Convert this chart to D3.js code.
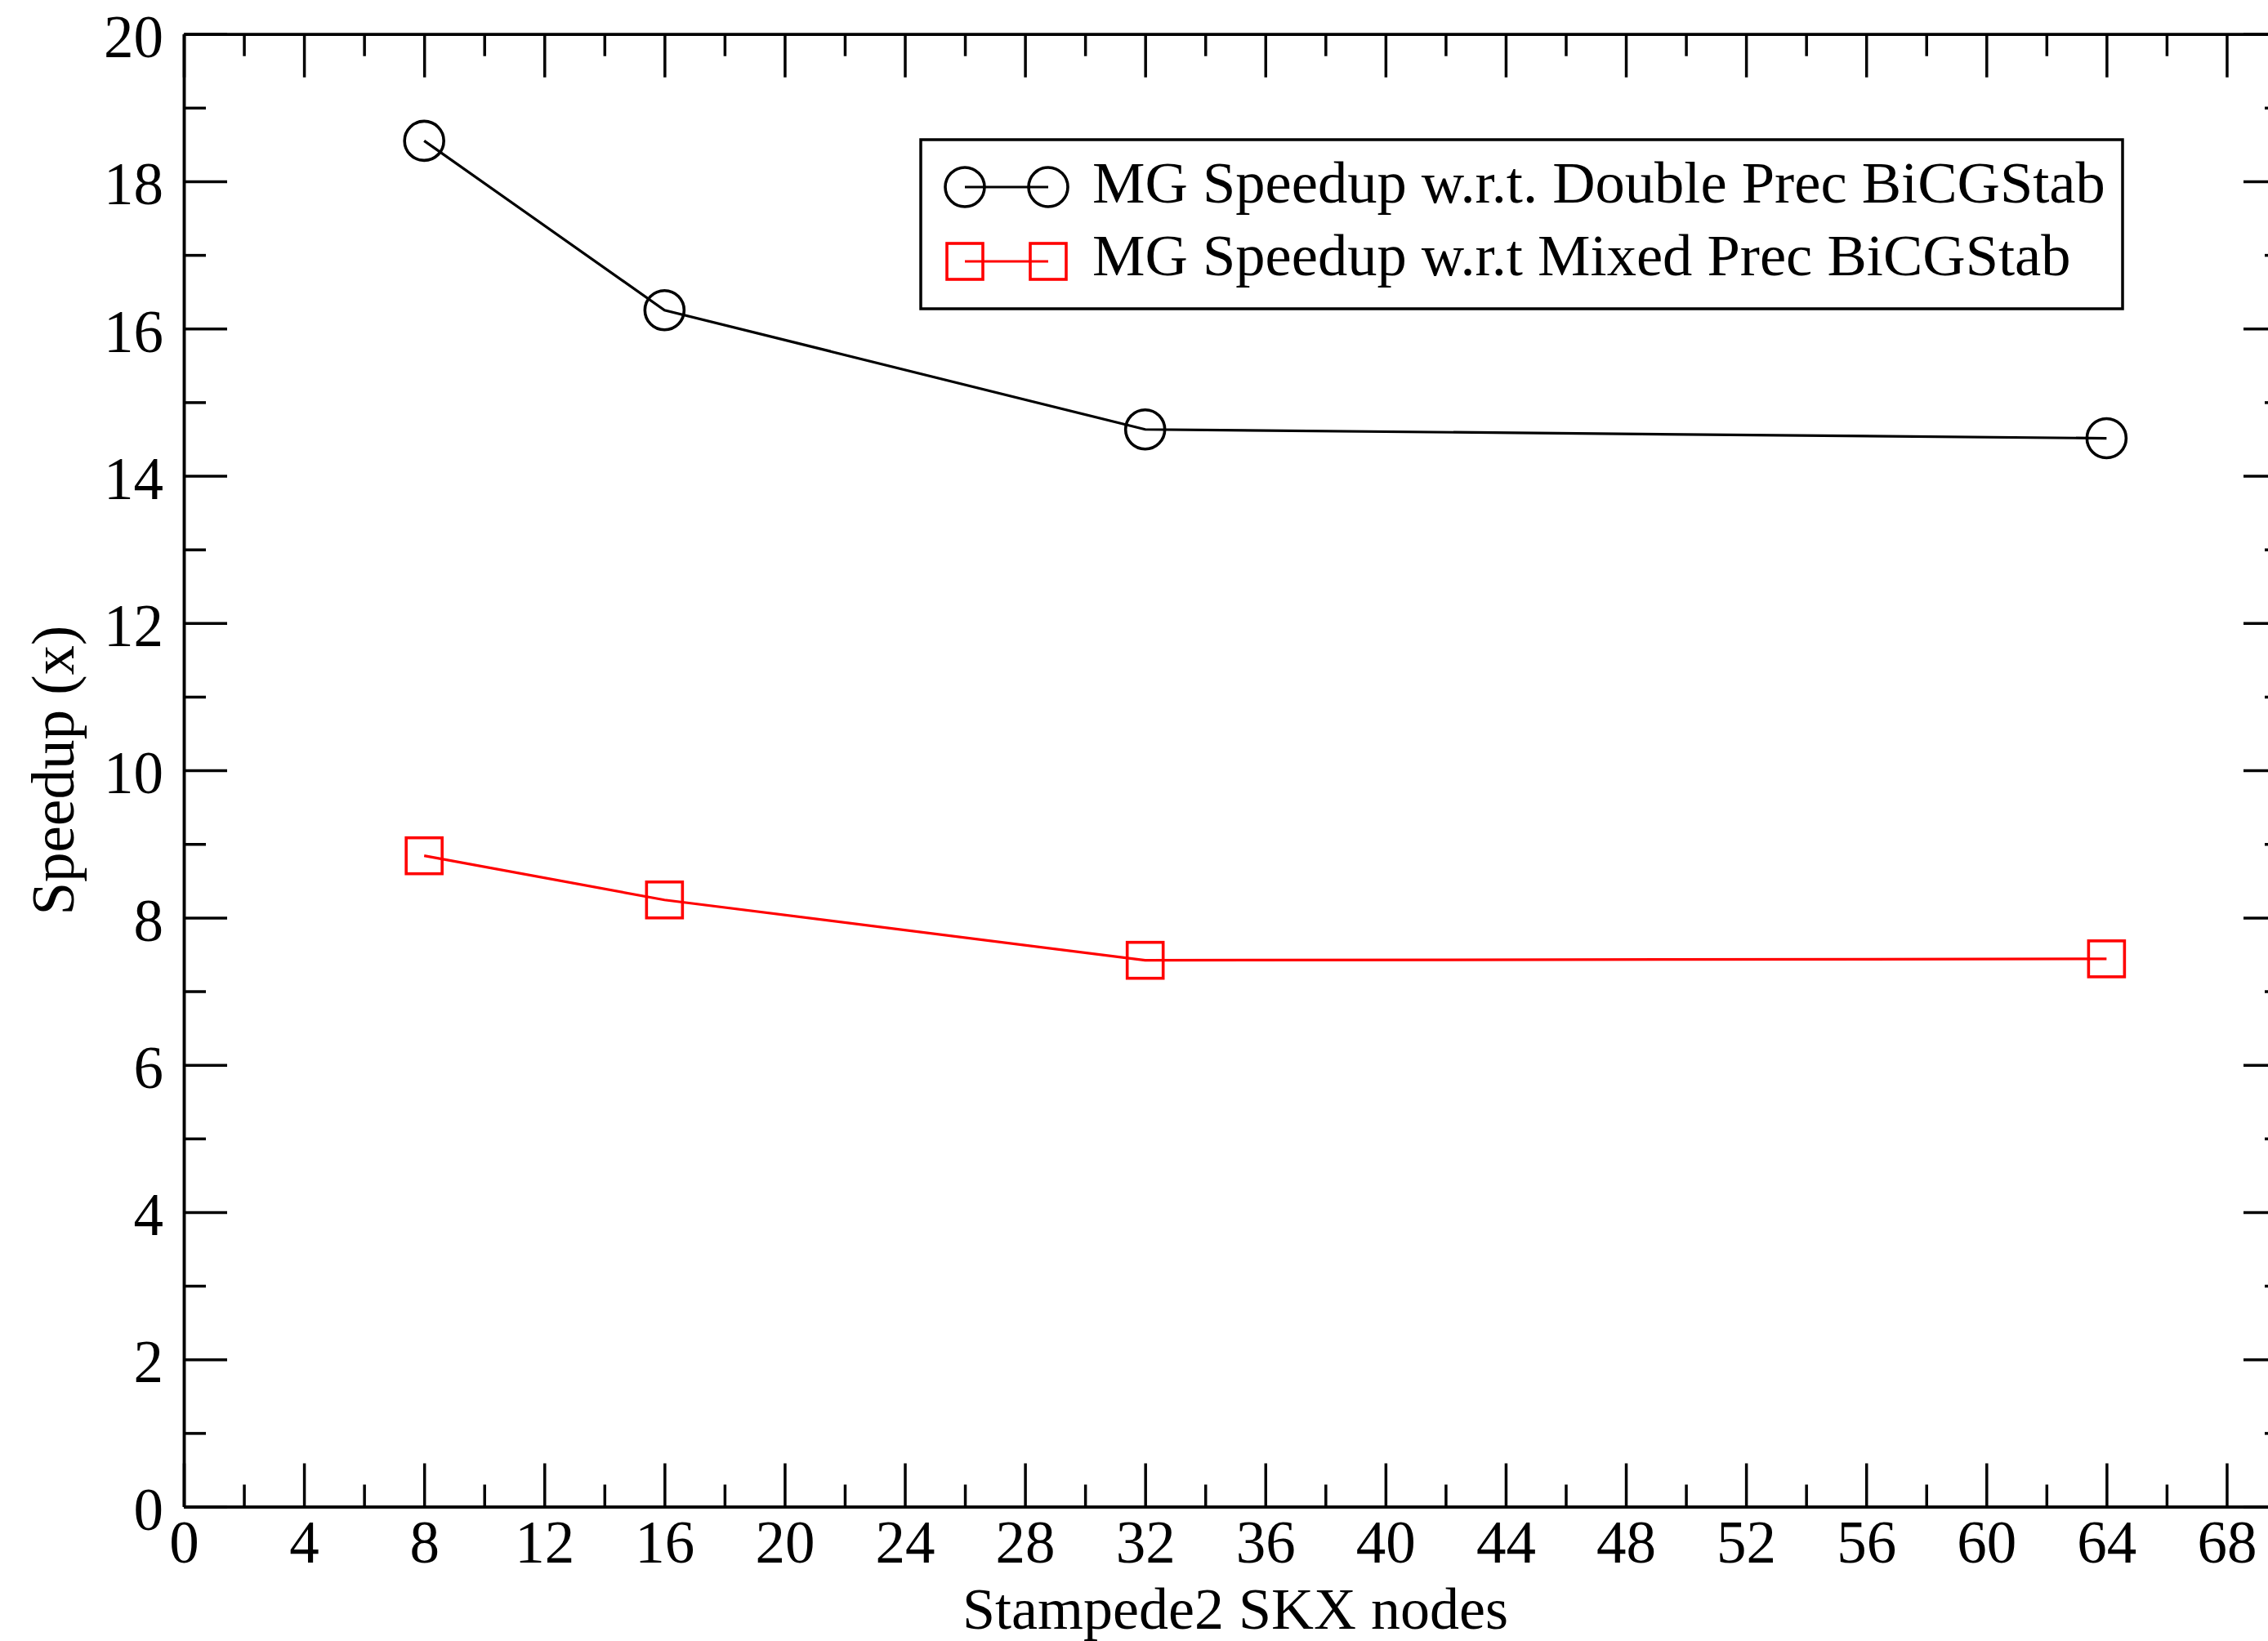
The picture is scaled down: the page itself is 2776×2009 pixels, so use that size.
<!DOCTYPE html>
<html>
<head>
<meta charset="utf-8">
<script src="https://cdn.jsdelivr.net/npm/d3@7"></script>
<style>
  html, body { margin: 0; padding: 0; background: #fff; }
  svg { display: block; }
  text { font-family: "Liberation Serif", "Times New Roman", serif; fill: #000; }
</style>
</head>
<body>
<svg id="chart" width="2776" height="2009"></svg>
<script>
// Speedup of MG vs BiCGStab on Stampede2 SKX nodes

const nodeCounts = [8, 16, 32, 64];
const speedupDouble = [18.55, 16.25, 14.63, 14.51];
const speedupMixed = [8.84, 8.24, 7.42, 7.44];

const seriesNames = [
  "MG Speedup w.r.t. Double Prec BiCGStab",
  "MG Speedup w.r.t Mixed Prec BiCGStab"
];

const xMajorTicks = d3.range(0, 69, 4);   // 0..68
const xMinorTicks = d3.range(2, 70, 4);
const yMajorTicks = d3.range(0, 21, 2);
const yMinorTicks = d3.range(1, 20, 2);

const xLabel = "Stampede2 SKX nodes";
const yLabel = "Speedup (x)";

(function () {
  const svg = d3.select("#chart");

  const left = 225, right = 2799, top = 41.7, bottom = 1844.5;
  const fontSize = 73;
  const majorLen = 53, minorLen = 27;
  const axisW = 3.5;

  const x = d3.scaleLinear().domain([0, 70]).range([left, right]);
  const y = d3.scaleLinear().domain([0, 20]).range([bottom, top]);

  svg.append("rect")
    .attr("width", 2776).attr("height", 2009)
    .attr("fill", "#fff");

  // helper to style an axis group
  function styleAxis(g) {
    g.selectAll("path").attr("stroke", "#000").attr("stroke-width", axisW);
    g.selectAll("line").attr("stroke", "#000").attr("stroke-width", axisW);
    g.selectAll("text")
      .attr("fill", "#000")
      .style("font-family", '"Liberation Serif", "Times New Roman", serif')
      .style("font-size", fontSize + "px");
  }

  // ---------- axes ----------
  // bottom (labelled)
  const gB = svg.append("g").attr("transform", `translate(0,${bottom})`)
    .call(d3.axisBottom(x).tickValues(xMajorTicks).tickSizeInner(-majorLen)
      .tickSizeOuter(0).tickPadding(17).tickFormat(d3.format("d")));
  styleAxis(gB);

  svg.append("g").attr("transform", `translate(0,${bottom})`)
    .call(d3.axisBottom(x).tickValues(xMinorTicks).tickSizeInner(-minorLen)
      .tickSizeOuter(0).tickFormat(""))
    .call(styleAxis);

  // top
  svg.append("g").attr("transform", `translate(0,${top})`)
    .call(d3.axisTop(x).tickValues(xMajorTicks).tickSizeInner(-majorLen)
      .tickSizeOuter(0).tickFormat(""))
    .call(styleAxis);
  svg.append("g").attr("transform", `translate(0,${top})`)
    .call(d3.axisTop(x).tickValues(xMinorTicks).tickSizeInner(-minorLen)
      .tickSizeOuter(0).tickFormat(""))
    .call(styleAxis);

  // left (labelled)
  const gL = svg.append("g").attr("transform", `translate(${left},0)`)
    .call(d3.axisLeft(y).tickValues(yMajorTicks).tickSizeInner(-majorLen)
      .tickSizeOuter(0).tickPadding(25).tickFormat(d3.format("d")));
  styleAxis(gL);
  gL.selectAll("text").attr("dy", "0.38em");

  svg.append("g").attr("transform", `translate(${left},0)`)
    .call(d3.axisLeft(y).tickValues(yMinorTicks).tickSizeInner(-minorLen)
      .tickSizeOuter(0).tickFormat(""))
    .call(styleAxis);

  // right (sits just past the picture's right edge, like the reference crop)
  svg.append("g").attr("transform", `translate(${right},0)`)
    .call(d3.axisRight(y).tickValues(yMajorTicks).tickSizeInner(-majorLen)
      .tickSizeOuter(0).tickFormat(""))
    .call(styleAxis);
  svg.append("g").attr("transform", `translate(${right},0)`)
    .call(d3.axisRight(y).tickValues(yMinorTicks).tickSizeInner(-minorLen)
      .tickSizeOuter(0).tickFormat(""))
    .call(styleAxis);

  // ---------- axis titles ----------
  svg.append("text")
    .attr("x", (left + right) / 2)
    .attr("y", 1993.5)
    .attr("text-anchor", "middle")
    .style("font-size", "72px")
    .text(xLabel);

  svg.append("text")
    .attr("transform", `translate(90,${(top + bottom) / 2}) rotate(-90)`)
    .attr("text-anchor", "middle")
    .style("font-size", fontSize + "px")
    .text(yLabel);

  // ---------- series ----------
  const series = [
    { name: seriesNames[0], values: speedupDouble, color: "#000", shape: "circle" },
    { name: seriesNames[1], values: speedupMixed, color: "#ff0000", shape: "square" }
  ];

  const line = d3.line().x(d => x(d[0])).y(d => y(d[1]));
  const markerR = 24, squareSide = 44, lineW = 3.2, markerW = 3.6;

  function drawMarker(g, shape, cx, cy, color) {
    if (shape === "circle") {
      g.append("circle")
        .attr("cx", cx).attr("cy", cy).attr("r", markerR)
        .attr("fill", "none").attr("stroke", color).attr("stroke-width", markerW);
    } else {
      g.append("rect")
        .attr("x", cx - squareSide / 2).attr("y", cy - squareSide / 2)
        .attr("width", squareSide).attr("height", squareSide)
        .attr("fill", "none").attr("stroke", color).attr("stroke-width", markerW);
    }
  }

  series.forEach(s => {
    const pts = nodeCounts.map((n, i) => [n, s.values[i]]);
    svg.append("path")
      .datum(pts)
      .attr("d", line)
      .attr("fill", "none")
      .attr("stroke", s.color)
      .attr("stroke-width", lineW);

    const mg = svg.append("g");
    pts.forEach(p => drawMarker(mg, s.shape, x(p[0]), y(p[1]), s.color));
  });

  // ---------- legend ----------
  const lg = svg.append("g");
  lg.append("rect")
    .attr("x", 1127).attr("y", 171)
    .attr("width", 1471).attr("height", 207)
    .attr("fill", "#fff")
    .attr("stroke", "#000")
    .attr("stroke-width", axisW);

  const rowY = [229, 320];
  const baseY = [248, 337];
  series.forEach((s, i) => {
    lg.append("line")
      .attr("x1", 1181).attr("x2", 1283)
      .attr("y1", rowY[i]).attr("y2", rowY[i])
      .attr("stroke", s.color).attr("stroke-width", lineW);
    drawMarker(lg, s.shape, 1181, rowY[i], s.color);
    drawMarker(lg, s.shape, 1283, rowY[i], s.color);
    lg.append("text")
      .attr("x", 1337).attr("y", baseY[i])
      .style("font-size", "72.5px")
      .text(s.name);
  });
})();
</script>
</body>
</html>
